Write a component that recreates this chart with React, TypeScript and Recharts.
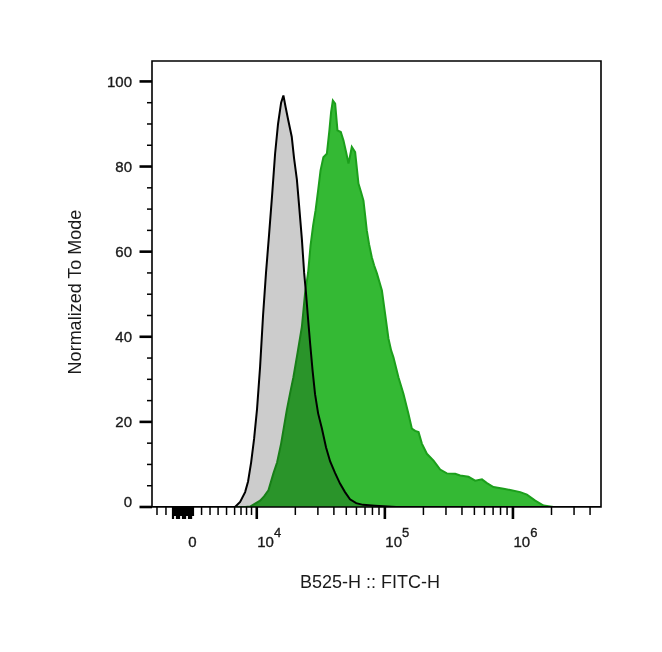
import React from 'react';
import { ComposedChart, Area, XAxis, YAxis, ReferenceArea } from 'recharts';

// Axis position in "decade units" of the biexponential FITC-H axis (4 = 10^4)
const X_MIN = 3.182;
const X_MAX = 6.6875;
const Y_MAX = 104.8;

// Unstained / control histogram (grey, black outline)
const controlPos = [3.182, 3.83, 3.87, 3.909, 3.932, 3.956, 3.979, 4.002, 4.026, 4.049, 4.072, 4.096, 4.119, 4.143, 4.166, 4.19, 4.208, 4.225, 4.245, 4.273, 4.291, 4.313, 4.33, 4.352, 4.37, 4.385, 4.401, 4.417, 4.436, 4.455, 4.479, 4.508, 4.541, 4.573, 4.611, 4.65, 4.689, 4.728, 4.776, 4.83, 4.924, 5.088, 6.6875];
const controlMode = [0, 0, 1.2, 3.5, 6, 10.5, 16, 23, 33, 45, 55, 64, 73, 83, 90, 95, 96.7, 94, 91, 87, 82, 77, 71, 63, 55, 50, 44, 38.3, 32, 26.5, 22, 18.5, 14, 10.7, 8, 5.5, 3.5, 1.8, 0.9, 0.5, 0.3, 0, 0];

// Stained histogram (green)
const stainedPos = [3.182, 3.909, 3.948, 3.987, 4.026, 4.057, 4.091, 4.13, 4.159, 4.19, 4.234, 4.26, 4.286, 4.319, 4.352, 4.377, 4.401, 4.42, 4.44, 4.459, 4.479, 4.498, 4.52, 4.547, 4.567, 4.58, 4.594, 4.612, 4.63, 4.656, 4.677, 4.698, 4.716, 4.729, 4.742, 4.768, 4.794, 4.815, 4.833, 4.846, 4.859, 4.877, 4.898, 4.916, 4.938, 4.977, 5.002, 5.028, 5.049, 5.067, 5.106, 5.145, 5.184, 5.211, 5.237, 5.263, 5.289, 5.328, 5.38, 5.432, 5.484, 5.549, 5.588, 5.653, 5.705, 5.758, 5.797, 5.848, 5.927, 5.979, 6.057, 6.109, 6.174, 6.239, 6.317, 6.6875];
const stainedMode = [0, 0, 0.1, 0.8, 1.5, 2.5, 3.9, 7.9, 10.5, 14.9, 22.7, 26.7, 30.5, 36.3, 42.3, 50.2, 55.1, 61.5, 66.2, 69.7, 74.4, 79.1, 82.2, 83.0, 88.5, 92.7, 95.5, 94.8, 88.5, 88.1, 86.1, 83.3, 80.7, 82.6, 84.6, 83.4, 76.0, 73.9, 72.0, 68.5, 65.0, 61.7, 58.7, 56.8, 54.9, 50.9, 45.4, 39.6, 36.8, 35.2, 30.5, 26.6, 21.9, 18.4, 17.9, 17.6, 14.9, 12.5, 10.9, 8.8, 7.9, 7.8, 7.4, 7.1, 6.2, 6.5, 5.6, 4.7, 4.3, 4.0, 3.5, 2.9, 1.5, 0.35, 0, 0];

const controlData = controlPos.map((x, i) => ({ x, y: controlMode[i] }));
const stainedData = stainedPos.map((x, i) => ({ x, y: stainedMode[i] }));

// X axis ticks
const xMajor = [4, 5, 6];
const xMajorExp = ['4', '5', '6'];
const xZeroLabel = 3.498;
const xMinorLow = [3.221, 3.291, 3.569, 3.635, 3.698, 3.764, 3.827, 3.877, 3.92, 3.959];
const xZeroBand = [3.346, 3.362, 3.377, 3.393, 3.408, 3.424, 3.44, 3.455, 3.471, 3.487, 3.502];
const logMultipliers = [2, 3, 4, 5, 6, 7, 8, 9];
const xMinorLog = [
  ...logMultipliers.map((k) => 4 + Math.log10(k)),
  ...logMultipliers.map((k) => 5 + Math.log10(k)),
  ...[2, 3, 4].map((k) => 6 + Math.log10(k)),
];

type TickKind = { kind: 'major' | 'minor' | 'band' | 'zero'; label?: string; idx?: number };
const xTickInfo = new Map<number, TickKind>();
xMinorLow.forEach((v) => xTickInfo.set(v, { kind: 'minor' }));
xMinorLog.forEach((v) => xTickInfo.set(v, { kind: 'minor' }));
xZeroBand.forEach((v, i) => xTickInfo.set(v, { kind: 'band', idx: i }));
xTickInfo.set(xZeroLabel, { kind: 'zero', label: '0' });
xMajor.forEach((v, i) => xTickInfo.set(v, { kind: 'major', label: xMajorExp[i] }));
const xTicks = Array.from(xTickInfo.keys()).sort((a, b) => a - b);

// Y axis ticks
const yTicks = [0, 5, 10, 15, 20, 25, 30, 35, 40, 45, 50, 55, 60, 65, 70, 75, 80, 85, 90, 95, 100];
const yLabels = [0, 20, 40, 60, 80, 100];

const FONT = '"Liberation Sans", Arial, Helvetica, sans-serif';
const TEXT = '#1a1a1a';

const XTick = (props: any) => {
  const { x, y, payload } = props;
  const v = payload.value;
  const cx = payload.coordinate ?? x;
  const info = xTickInfo.get(v);
  if (!info) return null;
  if (info.kind === 'zero') {
    return (
      <text x={cx} y={y + 40} textAnchor="middle" fontSize={15} fontFamily={FONT} fill={TEXT} stroke={TEXT} strokeWidth={0.35}>
        0
      </text>
    );
  }
  if (info.kind === 'band') {
    const len = (info.idx ?? 0) % 3 === 1 ? 9 : 12;
    return <line x1={cx} x2={cx} y1={y} y2={y + len} stroke="#000" strokeWidth={2.2} />;
  }
  if (info.kind === 'minor') {
    return <line x1={cx} x2={cx} y1={y} y2={y + 8} stroke="#000" strokeWidth={1.5} />;
  }
  return (
    <g>
      <line x1={cx} x2={cx} y1={y} y2={y + 12} stroke="#000" strokeWidth={2.6} />
      <text x={cx + 0.5} y={y + 40} textAnchor="start" fontSize={15} fontFamily={FONT} fill={TEXT} stroke={TEXT} strokeWidth={0.35}>
        10
        <tspan dy={-10} fontSize={13}>
          {info.label}
        </tspan>
      </text>
    </g>
  );
};

const YTick = (props: any) => {
  const { x, y, payload } = props;
  const v = payload.value;
  const cy = payload.coordinate ?? y;
  const isMajor = yLabels.includes(v);
  if (!isMajor) {
    return <line x1={x - 5} x2={x} y1={cy} y2={cy} stroke="#000" strokeWidth={1.5} />;
  }
  return (
    <g>
      <line x1={x - 12.5} x2={x} y1={cy} y2={cy} stroke="#000" strokeWidth={2.6} />
      <text
        x={x - 20}
        y={v === 0 ? cy : cy + 5.3}
        textAnchor="end"
        fontSize={15}
        fontFamily={FONT}
        fill={TEXT}
        stroke={TEXT}
        strokeWidth={0.35}
      >
        {v}
      </text>
    </g>
  );
};

const XTitle = (props: any) => {
  const vb = props.viewBox || {};
  return (
    <text
      x={vb.x + vb.width / 2 - 6.5}
      y={vb.y + 81}
      textAnchor="middle"
      fontSize={18}
      fontFamily={FONT}
      fill={TEXT}
    >
      B525-H :: FITC-H
    </text>
  );
};

const YTitle = (props: any) => {
  const vb = props.viewBox || {};
  const tx = vb.x + 29;
  const ty = vb.y + vb.height / 2 + 8;
  return (
    <text
      x={tx}
      y={ty}
      transform={`rotate(-90 ${tx} ${ty})`}
      textAnchor="middle"
      fontSize={18}
      fontFamily={FONT}
      fill={TEXT}
    >
      Normalized To Mode
    </text>
  );
};

export default function App() {
  return (
    <div style={{ position: 'absolute', left: 0, top: 0, width: 662, height: 652, background: '#fff' }}>
      <style>{`.control-hist { mix-blend-mode: multiply; }`}</style>
      <ComposedChart
        width={662}
        height={652}
        margin={{ top: 61, right: 61, bottom: 55, left: 52 }}
      >
        <XAxis
          type="number"
          dataKey="x"
          domain={[X_MIN, X_MAX]}
          allowDataOverflow
          ticks={xTicks}
          interval={0}
          tick={<XTick />}
          tickLine={false}
          axisLine={false}
          tickSize={0}
          tickMargin={0}
          height={90}
          label={<XTitle />}
        />
        <YAxis
          type="number"
          domain={[0, Y_MAX]}
          allowDataOverflow
          ticks={yTicks}
          interval={0}
          tick={<YTick />}
          tickLine={false}
          axisLine={false}
          tickSize={0}
          tickMargin={0}
          width={100}
          label={<YTitle />}
        />
        <Area
          data={stainedData}
          dataKey="y"
          type="linear"
          baseValue={0}
          fill="#34b934"
          fillOpacity={1}
          stroke="#1c9f1c"
          strokeWidth={2}
          isAnimationActive={false}
          dot={false}
          activeDot={false}
        />
        <Area
          data={controlData}
          dataKey="y"
          type="linear"
          baseValue={0}
          className="control-hist"
          fill="#cccccc"
          fillOpacity={1}
          stroke="#000000"
          strokeWidth={2}
          isAnimationActive={false}
          dot={false}
          activeDot={false}
        />
        <ReferenceArea
          x1={X_MIN}
          x2={X_MAX}
          y1={0}
          y2={Y_MAX}
          fill="none"
          fillOpacity={0}
          stroke="#000"
          strokeWidth={1.6}
          ifOverflow="visible"
        />
      </ComposedChart>
    </div>
  );
}
